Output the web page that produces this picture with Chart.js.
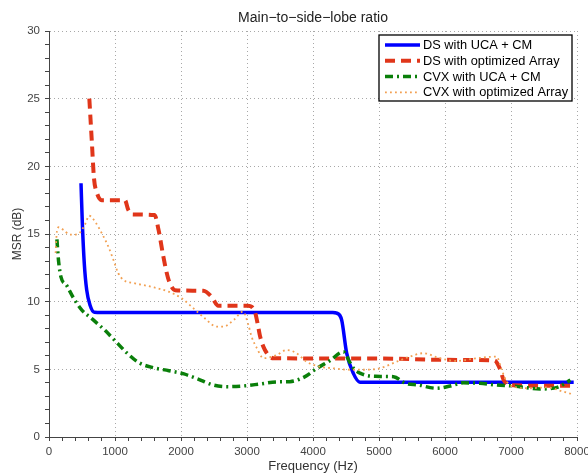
<!DOCTYPE html>
<html><head><meta charset="utf-8">
<script src="https://cdn.jsdelivr.net/npm/chart.js@4/dist/chart.umd.min.js"></script>
<style>html,body{margin:0;padding:0;overflow:hidden;background:#fff}#wrap{width:600px;height:475px}</style>
</head><body><div id="wrap"><canvas id="c" width="600" height="475"></canvas></div>
<script>
const chartTitle = 'Main\u2212to\u2212side\u2212lobe ratio';
const xAxisTitle = 'Frequency (Hz)';
const yAxisTitle = 'MSR (dB)';
const seriesNames = ['DS with UCA + CM', 'DS with optimized Array', 'CVX with UCA + CM', 'CVX with optimized Array'];

const xMajorTicks = [0, 1000, 2000, 3000, 4000, 5000, 6000, 7000, 8000];
const yMajorTicks = [0, 5, 10, 15, 20, 25, 30];

const dsUcaFreq = [485, 505, 535, 571, 621, 687, 800, 4300, 4360, 4434, 4510, 4611, 4712, 4850, 7950];
const dsUcaMsr  = [18.75, 15.8, 12.8, 10.87, 9.76, 9.22, 9.2, 9.2, 9.15, 8.65, 6.2, 4.7, 4.05, 4.05, 4.05];

const dsOptFreq = [611, 647, 682, 722, 798, 1150, 1200, 1263, 1600, 1660, 1730, 1780, 1820, 1910, 2340, 2465, 2565, 3010, 3120, 3160, 3200, 3270, 3400, 5000, 6000, 6750, 6830, 6890, 6990, 7950];
const dsOptMsr  = [25.0, 22.0, 19.1, 18.1, 17.5, 17.5, 16.8, 16.45, 16.4, 15.3, 13.4, 12.2, 11.5, 10.85, 10.8, 10.35, 9.7, 9.7, 9.25, 8.4, 7.4, 6.45, 5.82, 5.8, 5.7, 5.65, 5.07, 4.2, 3.82, 3.78];

const cvxUcaFreq = [120, 145, 180, 268, 368, 495, 671, 848, 1015, 1177, 1364, 1580, 1818, 2045, 2247, 2490, 2720, 2940, 3200, 3450, 3650, 3880, 4060, 4260, 4460, 4560, 4610, 4720, 4950, 5220, 5400, 5600, 5870, 6080, 6280, 6530, 6780, 7035, 7440, 7700, 7900];
const cvxUcaMsr  = [14.6, 13.0, 11.85, 11.2, 10.3, 9.4, 8.65, 7.88, 7.04, 6.23, 5.49, 5.12, 4.9, 4.66, 4.3, 3.84, 3.72, 3.77, 3.92, 4.07, 4.09, 4.46, 5.08, 5.65, 6.3, 5.5, 5.1, 4.7, 4.48, 4.46, 3.97, 3.84, 3.6, 3.77, 4.0, 3.97, 3.84, 3.77, 3.55, 3.67, 4.2];

const cvxOptFreq = [100, 120, 150, 220, 320, 440, 545, 610, 700, 800, 900, 975, 1050, 1130, 1300, 1550, 1810, 2010, 2190, 2360, 2540, 2640, 2800, 2940, 3020, 3070, 3150, 3250, 3450, 3600, 3750, 3900, 4100, 4300, 4560, 4810, 5015, 5270, 5470, 5670, 5920, 6180, 6480, 6780, 6860, 6935, 7090, 7290, 7540, 7790, 7920];
const cvxOptMsr  = [13.6, 15.2, 15.5, 15.3, 14.95, 15.0, 15.7, 16.35, 15.9, 15.05, 14.06, 13.1, 12.1, 11.6, 11.36, 11.1, 10.74, 10.25, 9.5, 8.77, 8.15, 8.15, 8.65, 9.26, 8.3, 7.41, 6.56, 5.82, 6.06, 6.43, 6.19, 5.57, 5.2, 5.08, 4.97, 4.97, 5.08, 5.57, 5.94, 6.19, 5.82, 5.62, 5.82, 5.94, 4.95, 4.09, 3.67, 3.6, 3.67, 3.35, 3.18];

function pts(fs, vs) { return fs.map((f, i) => ({x: f, y: vs[i]})); }

const FONT = '"Liberation Sans", Arial, Helvetica, sans-serif';
Chart.defaults.font.family = FONT;

const boxLegend = {
  id: 'boxLegend',
  afterDraw(chart) {
    const {ctx, chartArea: ca} = chart;
    // title centred over the plot area
    ctx.save();
    ctx.font = '14px ' + FONT;
    ctx.fillStyle = '#222';
    ctx.textAlign = 'center';
    ctx.textBaseline = 'middle';
    ctx.fillText(chartTitle, (ca.left + ca.right) / 2, ca.top - 13);
    // boxed legend inside the plot
    const w = 193, h = 66;
    const x0 = ca.right - 5 - w, y0 = ca.top + 4;
    ctx.fillStyle = '#fff';
    ctx.fillRect(x0, y0, w, h);
    ctx.strokeStyle = '#000';
    ctx.lineWidth = 1.3;
    ctx.setLineDash([]);
    ctx.strokeRect(x0, y0, w, h);
    ctx.font = '12.8px ' + FONT;
    ctx.textBaseline = 'middle';
    ctx.textAlign = 'left';
    chart.data.datasets.forEach((ds, i) => {
      const y = y0 + 10 + i * 15.8;
      ctx.strokeStyle = ds.borderColor;
      ctx.lineWidth = ds.borderWidth;
      ctx.setLineDash(ds.borderDash || []);
      ctx.beginPath();
      ctx.moveTo(x0 + 6, y);
      ctx.lineTo(x0 + 41, y);
      ctx.stroke();
      ctx.setLineDash([]);
      ctx.fillStyle = '#000';
      ctx.fillText(ds.label, x0 + 44, y + 0.5);
    });
    ctx.restore();
  }
};

new Chart(document.getElementById('c'), {
  type: 'line',
  data: {
    datasets: [
      {label: seriesNames[0], data: pts(dsUcaFreq, dsUcaMsr), borderColor: '#0000ff', borderWidth: 3.5, order: 4},
      {label: seriesNames[1], data: pts(dsOptFreq, dsOptMsr), borderColor: '#e0361a', borderWidth: 4, borderDash: [10, 6], order: 3},
      {label: seriesNames[2], data: pts(cvxUcaFreq, cvxUcaMsr), borderColor: '#0a7f0a', borderWidth: 3.5, borderDash: [8, 4, 2, 4], order: 2},
      {label: seriesNames[3], data: pts(cvxOptFreq, cvxOptMsr), borderColor: '#f2a052', borderWidth: 1.8, borderDash: [1.8, 3.2], order: 1}
    ]
  },
  options: {
    responsive: false,
    animation: false,
    devicePixelRatio: 1,
    layout: {padding: {left: 0, right: 23, top: 31, bottom: 0}},
    elements: {point: {radius: 0}, line: {cubicInterpolationMode: 'monotone', fill: false, borderCapStyle: 'butt'}},
    plugins: {
      legend: {display: false},
      tooltip: {enabled: false},
      title: {display: false}
    },
    scales: {
      x: {
        type: 'linear', min: 0, max: 8000,
        afterFit(s) { s.height = 38; },
        ticks: {stepSize: 200, autoSkip: false, maxRotation: 0, padding: 4, color: '#444', font: {size: 11.5},
          callback: v => xMajorTicks.includes(v) ? String(v) : ''},
        grid: {color: c => (c.tick && xMajorTicks.includes(c.tick.value)) ? '#a8a8a8' : 'rgba(0,0,0,0)', lineWidth: 1, tickColor: '#444', tickLength: 4, drawTicks: true},
        border: {display: true, color: '#444', width: 1, dash: [1, 3]},
        title: {display: true, text: xAxisTitle, color: '#333', font: {size: 13}, padding: {top: 0, bottom: 1}}
      },
      y: {
        type: 'linear', min: 0, max: 30,
        afterFit(s) { s.width = 49; },
        ticks: {stepSize: 1, autoSkip: false, padding: 5, color: '#444', font: {size: 11.5},
          callback: v => yMajorTicks.includes(v) ? String(v) : ''},
        grid: {color: c => (c.tick && yMajorTicks.includes(c.tick.value)) ? '#a8a8a8' : 'rgba(0,0,0,0)', lineWidth: 1, tickColor: '#444', tickLength: 4, drawTicks: true},
        border: {display: true, color: '#444', width: 1, dash: [1, 3]},
        title: {display: true, text: yAxisTitle, color: '#333', font: {size: 12}, padding: {top: 10, bottom: 0}}
      }
    }
  },
  plugins: [boxLegend]
});
</script>
</body></html>
